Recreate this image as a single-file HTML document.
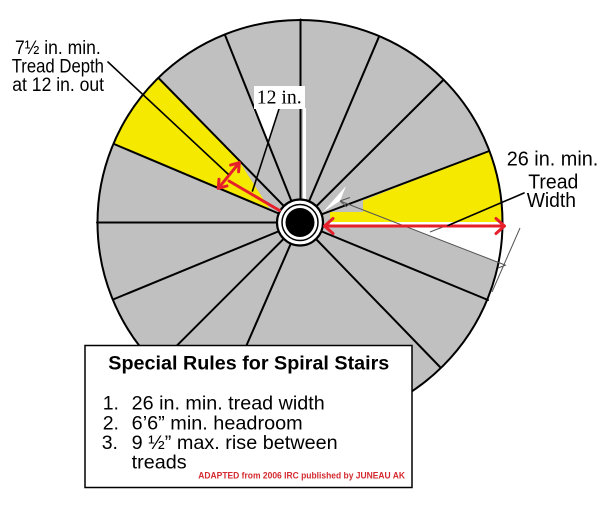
<!DOCTYPE html>
<html><head><meta charset="utf-8">
<style>html,body{margin:0;padding:0;background:#fff}svg{display:block}</style>
</head>
<body>
<svg width="605" height="529" viewBox="0 0 605 529" xmlns="http://www.w3.org/2000/svg">
<defs><clipPath id="c"><circle cx="300" cy="222.5" r="202.5"/></clipPath></defs>
<rect width="605" height="529" fill="#fff"/>
<circle cx="300" cy="222.5" r="202.5" fill="#c0c0c0"/>
<g clip-path="url(#c)">
  <polygon fill="#f5e900" points="130,48.4 240,162.5 262,197 270,209.8 80,129.7"/>
  <polygon fill="#f5e900" points="330,222 330,212 363,212 363,200.6 520,138.9 520,222"/>
  <rect x="330" y="222" width="190" height="3" fill="#fff"/>
  <polygon fill="#fff" points="403,226 520,226 520,270.8"/>
  <polygon fill="#fff" points="323,212 346,186 340,201"/>
  <polygon fill="#fff" points="253,109 280,109 268,142"/>
  <rect x="303" y="108" width="3" height="92" fill="#fff"/>
</g>
<g stroke="#000" stroke-width="2" stroke-linecap="round">
  <line x1="300" y1="222.5" x2="488" y2="151.5"/>
  <line x1="300" y1="222.5" x2="443.3" y2="80"/>
  <line x1="300" y1="222.5" x2="379" y2="36.7"/>
  <line x1="300.5" y1="222.5" x2="300.5" y2="19.5"/>
  <line x1="300" y1="222.5" x2="225" y2="35"/>
  <line x1="300" y1="222.5" x2="158.5" y2="78"/>
  <line x1="300" y1="222.5" x2="114" y2="144"/>
  <line x1="300" y1="222.5" x2="97" y2="222.5"/>
  <line x1="300" y1="222.5" x2="113" y2="299.5"/>
  <line x1="300" y1="222.5" x2="156.4" y2="366.1"/>
  <line x1="300" y1="222.5" x2="219" y2="408.6"/>
  <line x1="300" y1="222.5" x2="440" y2="367"/>
  <line x1="300" y1="222.5" x2="488" y2="300"/>
</g>
<circle cx="300" cy="222.5" r="202.5" fill="none" stroke="#000" stroke-width="2"/>
<!-- pole -->
<circle cx="300" cy="222.5" r="23" fill="#fff" stroke="#000" stroke-width="2.2"/>
<circle cx="300" cy="222.5" r="18" fill="#fff" stroke="#000" stroke-width="1.5"/>
<circle cx="300" cy="222.5" r="14.5" fill="#000"/>
<!-- thin gray lines -->
<g stroke="#555" stroke-width="1" fill="none">
  <line x1="340" y1="201" x2="505" y2="265"/>
  <line x1="520" y1="228" x2="492" y2="292"/>
  <line x1="340" y1="201" x2="350" y2="197.5"/>
  <line x1="340" y1="201" x2="347" y2="207"/>
  <line x1="430" y1="232" x2="448" y2="225"/>
  <line x1="498" y1="268" x2="506" y2="265"/>
</g>
<!-- red arrows -->
<g stroke="#e5202b" stroke-width="3" fill="none" stroke-linecap="round" stroke-linejoin="round">
  <line x1="326" y1="226" x2="503" y2="226"/>
  <polyline points="333,218.5 324.5,226 333,233.5"/>
  <polyline points="496,218.5 504.5,226 496,233.5"/>
  <line x1="279.5" y1="210.5" x2="229" y2="181"/>
  <line x1="218.3" y1="188.3" x2="239.3" y2="162.7"/>
  <polyline points="227,185.9 218.3,188.3 219,179.3"/>
  <polyline points="230.6,165.1 239.3,162.7 238.6,171.7"/>
</g>
<!-- leaders -->
<g stroke="#000" stroke-width="1.6" stroke-linecap="round">
  <line x1="108" y1="62" x2="228" y2="174"/>
  <line x1="279" y1="109" x2="252.5" y2="191"/>
  <line x1="448" y1="225.5" x2="524" y2="193"/>
</g>
<!-- 12 in. label -->
<rect x="254" y="86" width="51" height="23" fill="#fff"/>
<text x="256.7" y="103.5" font-family="'Liberation Serif', serif" font-size="20" fill="#000" textLength="45" lengthAdjust="spacingAndGlyphs">12 in.</text>
<!-- left labels -->
<g font-family="'Liberation Sans', Arial, sans-serif" font-size="19" fill="#000">
  <text x="15" y="54" textLength="85.7" lengthAdjust="spacingAndGlyphs">7½ in. min.</text>
  <text x="11.7" y="72.5" textLength="92.3" lengthAdjust="spacingAndGlyphs">Tread Depth</text>
  <text x="12.3" y="91" textLength="91.7" lengthAdjust="spacingAndGlyphs">at 12 in. out</text>
</g>
<!-- right labels -->
<g font-family="'Liberation Sans', Arial, sans-serif" font-size="20" fill="#000">
  <text x="506.7" y="165.5" textLength="91.6" lengthAdjust="spacingAndGlyphs">26 in. min.</text>
  <text x="528.3" y="188.3" textLength="50" lengthAdjust="spacingAndGlyphs">Tread</text>
  <text x="526.7" y="207" textLength="49.3" lengthAdjust="spacingAndGlyphs">Width</text>
</g>
<!-- info box -->
<rect x="85" y="345.5" width="327" height="142" fill="#fff" stroke="#000" stroke-width="1.5"/>
<text x="108.3" y="369.5" font-family="'Liberation Sans', Arial, sans-serif" font-size="19" font-weight="bold" fill="#000" textLength="281" lengthAdjust="spacingAndGlyphs">Special Rules for Spiral Stairs</text>
<g font-family="'Liberation Sans', Arial, sans-serif" font-size="19.5" fill="#000">
  <text x="102.7" y="409.3">1.</text>
  <text x="131.7" y="409.3" textLength="193" lengthAdjust="spacingAndGlyphs">26 in. min. tread width</text>
  <text x="102.7" y="429.3">2.</text>
  <text x="131.7" y="429.3" textLength="171" lengthAdjust="spacingAndGlyphs">6’6” min. headroom</text>
  <text x="101.7" y="449">3.</text>
  <text x="131.7" y="449" textLength="206" lengthAdjust="spacingAndGlyphs">9 ½” max. rise between</text>
  <text x="131.7" y="468.3" textLength="55" lengthAdjust="spacingAndGlyphs">treads</text>
</g>
<text x="198.3" y="478.3" font-family="'Liberation Sans', Arial, sans-serif" font-size="9.5" font-weight="bold" fill="#d42a2f" textLength="206.7" lengthAdjust="spacingAndGlyphs">ADAPTED from 2006 IRC published by JUNEAU AK</text>
</svg>
</body></html>
